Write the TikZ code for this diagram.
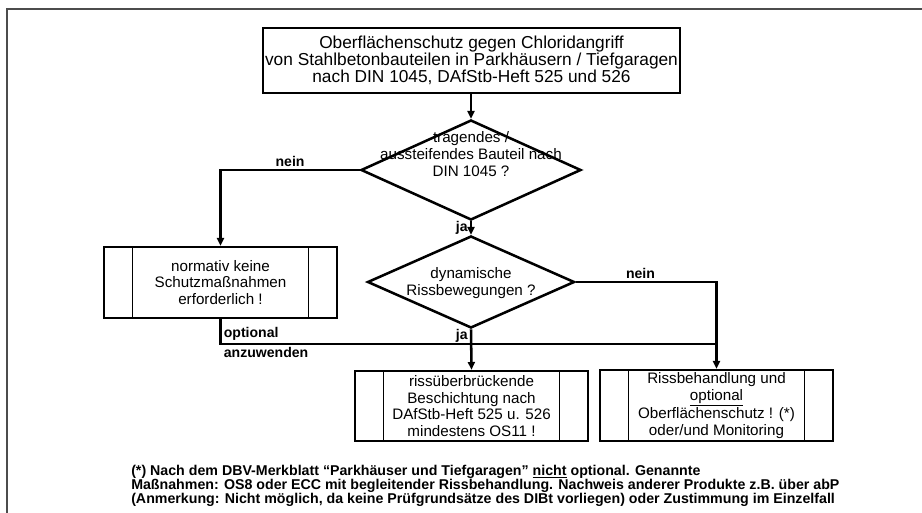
\documentclass[tikz,border=0pt]{standalone}
\usepackage{fontspec}
\setmainfont{Liberation Sans}
\usepackage{tikz}
\usetikzlibrary{shapes.geometric,arrows.meta}
\newcommand\boxfont{\fontsize{10.8}{11.8}\selectfont}

\begin{document}
\begin{tikzpicture}[x=0.025cm, y=-0.025cm, line width=1.8pt,
  box/.style = {draw, align=center, inner sep=0pt, font=\boxfont},
  proc/.style = {box, minimum width=5.825cm, minimum height=1.775cm,
    path picture={
      \draw[line width=1.2pt] ([xshift=0.7125cm]path picture bounding box.north west) -- ([xshift=0.7125cm]path picture bounding box.south west);
      \draw[line width=1.2pt] ([xshift=-0.7125cm]path picture bounding box.north east) -- ([xshift=-0.7125cm]path picture bounding box.south east);
    }},
  decide/.style = {draw, diamond, inner sep=0pt},
  dtext/.style = {align=center, inner sep=0pt, font=\boxfont},
  lbl/.style = {font=\bfseries\fontsize{10}{12}\selectfont, inner sep=1.5pt},
  arr/.style = {-{Triangle[length=5.5pt,width=5pt]}}]
	\useasboundingbox (0,0) rectangle (922,513);
	\draw[gray!60!black, line width=1.4pt] (922,9) -- (7,9) -- (7,513);
	% start
	\node[box, minimum width=10.425cm, minimum height=1.625cm, font=\fontsize{12.3}{12}\selectfont] (start) at (471.5,60.5)
	  {Oberflächenschutz gegen Chloridangriff\\von Stahlbetonbauteilen in Parkhäusern / Tiefgaragen\\nach DIN 1045, DAfStb-Heft 525 und 526};
	% decisions
	\node[decide, minimum width=5.5cm, minimum height=2.5cm] (trag) at (471,170){};
	\node[dtext] (tragtxt) at (471,154) {tragendes /\\aussteifendes Bauteil nach\\DIN 1045 ?};
	\node[decide, minimum width=5.175cm, minimum height=2.3cm] (dyn) at (471,282){};
	\node[dtext] (dyntxt) at (471,283) {dynamische\\Rissbewegungen ?};
	% results
	\node[proc] (keine) at (220.5,282.5) {normativ keine\\Schutzmaßnahmen\\erforderlich !};
	\node[proc, minimum height=1.75cm] (os11) at (471.5,406) {rissüberbrückende\\Beschichtung nach\\DAfStb-Heft 525 u. 526\\mindestens OS11 !};
	\node[proc] (riss) at (716.5,405.5) {Rissbehandlung und\\\underline{optional}\\Oberflächenschutz ! (*)\\oder/und Monitoring};
	\coordinate (join) at (716,344);
	% connectors
	\draw[arr] (start.south -| trag.north) -- (trag.north);
	\draw[arr] (trag.west) -| node[lbl, pos=0.25, above] (nein1) {nein} (keine.north);
	\draw[arr] (trag.south) -- node[lbl, left] (ja1) {ja} (dyn.north);
	\draw[arr] (dyn.south) -- node[lbl, pos=0.16, left] (ja2) {ja} (os11.north);
	\draw[arr] (dyn.east) -| node[lbl, pos=0.23, above] (nein2) {nein} (riss.north);
	\draw (keine.south) |- node[lbl, pos=0.5, above right] (opt) {optional} node[lbl, pos=0.5, below right] (anz) {anzuwenden} (join);
	% footnote
	\node[anchor=north west, align=left, inner sep=0pt, font=\bfseries\fontsize{10.1}{10}\selectfont] (fn) at (130,464)
	  {(*) Nach dem DBV-Merkblatt “Parkhäuser und Tiefgaragen” \underline{nicht} optional. Genannte\\
	   Maßnahmen: OS8 oder ECC mit begleitender Rissbehandlung. Nachweis anderer Produkte z.B. über abP\\
	   (Anmerkung: Nicht möglich, da keine Prüfgrundsätze des DIBt vorliegen) oder Zustimmung im Einzelfall};
\end{tikzpicture}
\end{document}
